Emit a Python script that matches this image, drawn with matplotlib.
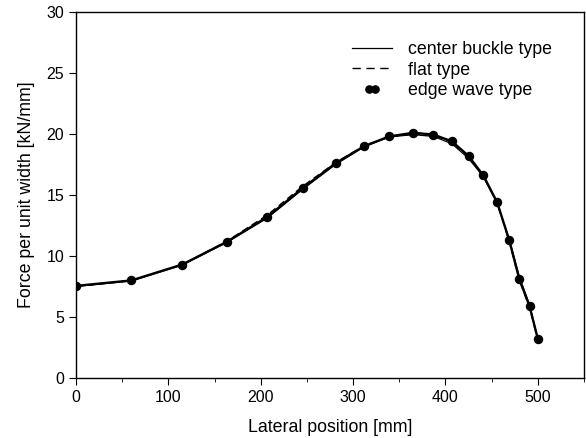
import matplotlib
matplotlib.use("Agg")
import matplotlib.pyplot as plt
from matplotlib.ticker import MultipleLocator
from matplotlib.lines import Line2D
from matplotlib.legend_handler import HandlerLine2D

plt.rcParams['font.family'] = ['Liberation Sans', 'DejaVu Sans']

# Lateral position [mm]
x_edge = [0, 60, 115, 163, 207, 246, 281, 312, 339, 365, 387, 407, 425, 441, 456, 469, 480, 491, 500]
y_edge = [7.55, 8.0, 9.3, 11.15, 13.2, 15.6, 17.6, 19.0, 19.8, 20.1, 19.95, 19.4, 18.2, 16.6, 14.4, 11.3, 8.1, 5.9, 3.2]

x_center = [0, 60, 115, 163, 207, 246, 281, 312, 339, 365, 387, 407, 425, 441, 456, 469, 480, 491, 500]
y_center = [7.5, 7.95, 9.25, 11.1, 13.1, 15.5, 17.5, 18.95, 19.75, 19.95, 19.8, 19.2, 18.0, 16.5, 14.3, 11.4, 8.3, 6.0, 3.2]

x_flat = [0, 60, 115, 163, 207, 246, 281, 312, 339, 365, 387, 407, 425, 441, 456, 469, 480, 491, 500]
y_flat = [7.5, 8.0, 9.3, 11.2, 13.35, 15.75, 17.65, 19.05, 19.75, 20.0, 19.9, 19.35, 18.15, 16.55, 14.35, 11.2, 8.0, 5.8, 3.1]

labels = ['center buckle type', 'flat type', 'edge wave type']

fig = plt.figure(figsize=(5.86, 4.38), dpi=100)
ax = fig.add_axes([0.1297, 0.137, 0.8669, 0.8356])

ax.plot(x_center, y_center, color='black', lw=0.9)
ax.plot(x_flat, y_flat, color='black', lw=1.0, ls=(0, (5, 3)))
ax.plot(x_edge, y_edge, color='black', lw=1.7, marker='o', ms=5.8)

ax.set_xlim(0, 550)
ax.set_ylim(0, 30)
ax.xaxis.set_major_locator(MultipleLocator(100))
ax.xaxis.set_minor_locator(MultipleLocator(50))
ax.yaxis.set_major_locator(MultipleLocator(5))
ax.tick_params(axis='both', which='both', direction='out', labelsize=11.5, top=False, right=False)
ax.tick_params(which='major', length=5)
ax.tick_params(which='minor', length=3)
for s in ax.spines.values():
    s.set_linewidth(1.0)

ax.set_xlabel('Lateral position [mm]', fontsize=12.8, labelpad=10)
ax.set_ylabel('Force per unit width [kN/mm]', fontsize=12.8, labelpad=8)

h_center = Line2D([], [], color='black', lw=0.9)
h_flat = Line2D([], [], color='black', lw=1.0, ls=(0, (6, 4)))
h_edge = Line2D([], [], color='black', lw=0, marker='o', ms=5.2)
leg = ax.legend([h_center, h_flat, h_edge], labels,
                loc='upper left', bbox_to_anchor=(0.529, 0.94), frameon=False,
                fontsize=12.8, handlelength=2.25, handletextpad=0.9, labelspacing=0.2,
                borderaxespad=0.0,
                handler_map={h_edge: HandlerLine2D(numpoints=2, marker_pad=0.95)})

fig.savefig('out.png', dpi=100)
